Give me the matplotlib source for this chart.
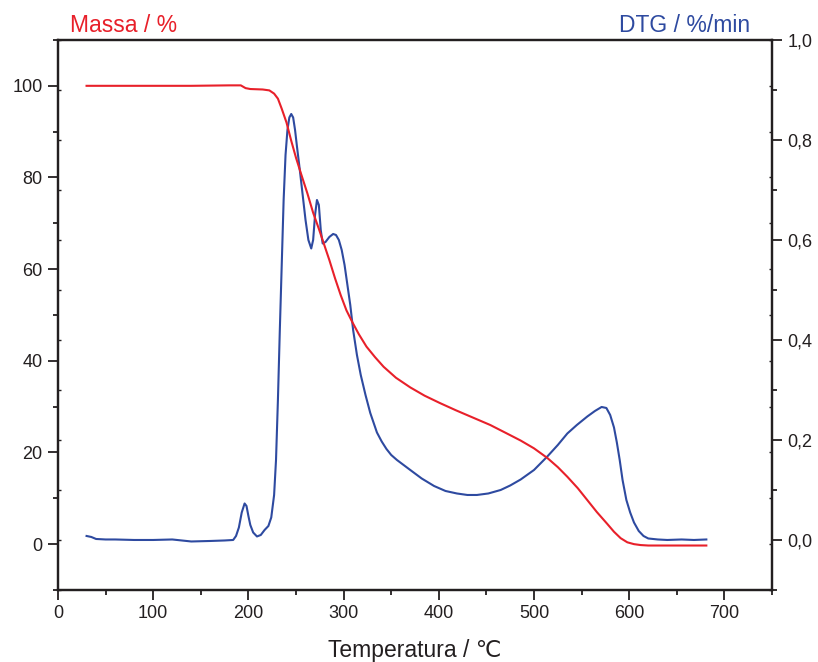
import matplotlib
matplotlib.use("Agg")
import matplotlib.pyplot as plt
from matplotlib.ticker import MultipleLocator, FuncFormatter

plt.rcParams['font.family'] = ['Liberation Sans', 'DejaVu Sans']

# Mass curve (TG)
temp_mass = [30, 60, 100, 140, 180, 192, 197, 202, 215, 222, 227, 231, 235, 240, 245,
             250, 255, 262, 268, 274, 279, 285, 291, 297, 303, 309, 316, 324, 333, 342,
             355, 370, 385, 401, 418, 436, 454, 471, 486, 500, 514, 525, 535, 546, 556,
             566, 577, 584, 591, 598, 605, 612, 620, 650, 681]
mass = [100.0, 100.0, 100.0, 100.0, 100.1, 100.1, 99.5, 99.3, 99.2, 99.0, 98.3, 97.2, 95.0, 92.0, 88.0,
        84.3, 81.0, 76.5, 72.3, 68.8, 65.7, 62.0, 58.0, 54.3, 51.0, 48.5, 45.8, 43.1, 40.8, 38.7,
        36.3, 34.2, 32.4, 30.8, 29.2, 27.6, 26.0, 24.2, 22.6, 20.9, 18.8, 16.8, 14.7, 12.2, 9.6,
        7.0, 4.4, 2.7, 1.3, 0.4, 0.0, -0.2, -0.3, -0.3, -0.3]

# DTG curve
temp_dtg = [30, 35, 40, 50, 60, 80, 100, 120, 140, 160, 175, 184, 187, 190, 193, 196, 198, 200,
            202, 205, 209, 213, 217, 221, 224, 227, 229, 231, 233, 235, 237, 239, 241, 243, 245,
            247, 249, 251, 254, 257, 260, 263, 266, 268, 270, 272, 274, 276, 278, 281, 285, 289,
            292, 295, 298, 301, 304, 307, 310, 314, 318, 323, 328, 335, 340, 345, 350, 356, 363,
            370, 382, 395, 407, 419, 430, 440, 452, 465, 475, 486, 500, 514, 525, 535, 545, 556,
            564, 571, 576, 580, 584, 587, 590, 593, 597, 601, 605, 610, 615, 620, 630, 640, 655,
            668, 681]
dtg = [0.008, 0.006, 0.002, 0.001, 0.001, 0.000, 0.000, 0.001, -0.003, -0.002, -0.001, 0.000, 0.008,
       0.025, 0.055, 0.073, 0.068, 0.048, 0.030, 0.015, 0.007, 0.010, 0.020, 0.028, 0.045, 0.09,
       0.16, 0.28, 0.42, 0.55, 0.68, 0.77, 0.82, 0.845, 0.852, 0.845, 0.82, 0.787, 0.74, 0.69,
       0.64, 0.60, 0.583, 0.60, 0.65, 0.68, 0.67, 0.62, 0.593, 0.596, 0.606, 0.612, 0.610, 0.60,
       0.58, 0.55, 0.51, 0.47, 0.42, 0.37, 0.33, 0.29, 0.254, 0.215, 0.197, 0.182, 0.170, 0.160,
       0.150, 0.140, 0.123, 0.108, 0.098, 0.093, 0.090, 0.090, 0.093, 0.100, 0.109, 0.121, 0.14,
       0.167, 0.19, 0.213, 0.23, 0.247, 0.258, 0.266, 0.264, 0.25, 0.225, 0.195, 0.16, 0.12, 0.08,
       0.055, 0.035, 0.018, 0.008, 0.003, 0.001, 0.000, 0.001, 0.000, 0.001]

RED = '#e8202a'
BLUE = '#2e4aa0'
AXC = '#231f20'

fig = plt.figure(figsize=(8.18, 6.62), dpi=100)
ax1 = fig.add_axes([0.0709, 0.1088, 0.8729, 0.8308])
ax2 = ax1.twinx()

ax1.set_xlim(0, 750)
ax1.set_ylim(-10, 110)
ax2.set_ylim(-0.1, 1.0)

ax2.plot(temp_dtg, dtg, color=BLUE, lw=1.5, zorder=2)
ax1.plot(temp_mass, mass, color=RED, lw=1.5, zorder=3)
ax1.set_zorder(ax2.get_zorder() + 1)
ax1.patch.set_visible(False)

for ax in (ax1, ax2):
    for s in ax.spines.values():
        s.set_linewidth(1.6)
        s.set_color(AXC)

ax1.xaxis.set_major_locator(MultipleLocator(100))
ax1.xaxis.set_minor_locator(MultipleLocator(50))
ax1.yaxis.set_major_locator(MultipleLocator(20))
ax1.yaxis.set_minor_locator(MultipleLocator(10))
ax2.yaxis.set_major_locator(MultipleLocator(0.2))
ax2.yaxis.set_minor_locator(MultipleLocator(0.1))
ax2.yaxis.set_major_formatter(FuncFormatter(lambda v, p: f"{v:.1f}".replace('.', ',').replace('-0,0', '0,0')))

ax1.tick_params(axis='both', which='major', direction='out', length=7, width=1.3,
                labelsize=13, colors=AXC, pad=4)
ax1.tick_params(axis='both', which='minor', direction='out', length=3.6, width=1.3, colors=AXC)
ax1.tick_params(axis='x', top=False, which='both')
ax1.tick_params(axis='y', right=False, which='both')
ax2.tick_params(axis='y', which='major', direction='out', length=7, width=1.3,
                labelsize=13, colors=AXC, pad=4)
ax2.tick_params(axis='y', which='minor', direction='out', length=3.6, width=1.3, colors=AXC)

# small inward marks on opposite spines
ax3 = ax1.twinx()
ax3.set_ylim(-0.1, 1.0)
ax3.yaxis.set_ticks_position('left')
ax3.yaxis.set_major_locator(MultipleLocator(0.1))
ax3.tick_params(axis='y', direction='in', length=2.5, width=1.0, colors=AXC,
                labelleft=False, labelright=False)
for s in ax3.spines.values():
    s.set_visible(False)
ax4 = ax1.twinx()
ax4.set_ylim(-10, 110)
ax4.yaxis.set_ticks_position('right')
ax4.yaxis.set_major_locator(MultipleLocator(10))
ax4.tick_params(axis='y', direction='in', length=2.5, width=1.0, colors=AXC,
                labelleft=False, labelright=False)
for s in ax4.spines.values():
    s.set_visible(False)

ax1.set_xlabel('Temperatura / ℃', fontsize=16.5, color=AXC, labelpad=12)
ax1.text(0.017, 1.006, 'Massa / %', transform=ax1.transAxes, color=RED,
         fontsize=16.5, ha='left', va='bottom')
ax1.text(0.969, 1.006, 'DTG / %/min', transform=ax1.transAxes, color=BLUE,
         fontsize=16.5, ha='right', va='bottom')

fig.savefig('out.png', dpi=100)
